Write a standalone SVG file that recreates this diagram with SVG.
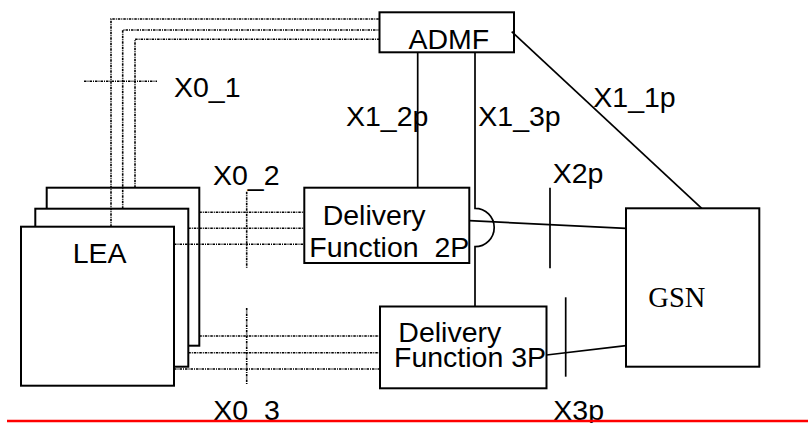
<svg xmlns="http://www.w3.org/2000/svg" width="810" height="423" viewBox="0 0 810 423">
<style>
.box{fill:#fff;stroke:#000;stroke-width:2}
.ln{fill:none;stroke:#000;stroke-width:1.7}
.dot{fill:none;stroke:#000;stroke-width:1.6;stroke-dasharray:2.5 1 1 1}
.t{font-family:"Liberation Sans",Arial,sans-serif;font-size:28.5px;fill:#000;white-space:pre}
.s{font-family:"Liberation Serif","Times New Roman",serif;font-size:28.5px;fill:#000}
</style>
<rect width="810" height="423" fill="#fff"/>
<g id="LEA">
<rect class="box" x="46.7" y="187.7" width="152.6" height="158"/>
<rect class="box" x="35.3" y="208.7" width="153" height="158"/>
<rect class="box" x="21" y="226.7" width="153" height="159"/>
<text class="t" x="72.7" y="263.3">LEA</text>
</g>
<g id="ADMF">
<rect class="box" x="379.5" y="12.3" width="134.5" height="40"/>
<text class="t" x="408.5" y="49">ADMF</text>
</g>
<g id="DF2P">
<rect class="box" x="304.3" y="187.7" width="165" height="75.3"/>
<text class="t" x="322.7" y="225">Delivery</text>
<text class="t" x="309.3" y="256.7">Function  2P</text>
</g>
<g id="DF3P">
<rect class="box" x="380" y="306.5" width="166.5" height="81.8"/>
<text class="t" x="398.3" y="341.7">Delivery</text>
<text class="t" x="394" y="366.7">Function 3P</text>
</g>
<g id="GSN">
<rect class="box" x="626" y="208.3" width="133.3" height="158.4"/>
<text class="s" x="648.3" y="307.3">GSN</text>
</g>
<g id="connectors">
<path class="dot" d="M111 226.7 V19 H379.5"/>
<path class="dot" d="M122.7 208.7 V30 H379.5"/>
<path class="dot" d="M135 187.7 V39.3 H379.5"/>
<path class="dot" d="M84 81.3 H157"/>
<path class="dot" d="M199.3 212.3 H304.3 M188.3 228.3 H304.3 M174 244.3 H304.3"/>
<path class="dot" d="M199.3 336 H380 M188.3 352.7 H380 M174 369 H380"/>
<path class="dot" d="M246.7 191.7 V268.3 M246.7 308 V384"/>
<path class="ln" d="M417.7 52.3 V187.7"/>
<path class="ln" d="M475 52.3 V208.3 A19.2 19.2 0 0 1 475 246.7 V306.5"/>
<path class="ln" d="M511.7 31.7 L701.7 208.3"/>
<path class="ln" d="M469.3 220.7 L626 228.3"/>
<path class="ln" d="M546.5 355 L626 345.7"/>
<path class="ln" d="M550 187.7 V268.3"/>
<path class="ln" d="M565.7 297.3 V376.7"/>
</g>
<g id="labels">
<text class="t" x="174" y="97.3">X0_1</text>
<text class="t" x="213" y="185">X0_2</text>
<text class="t" x="213.3" y="419.5">X0_3</text>
<text class="t" x="346" y="126">X1_2p</text>
<text class="t" x="478.3" y="126">X1_3p</text>
<text class="t" x="593.3" y="106.7">X1_1p</text>
<text class="t" x="552.7" y="183.3">X2p</text>
<text class="t" x="553.3" y="419.5">X3p</text>
</g>
<path d="M7 421 H808" stroke="#f00" stroke-width="2.5"/>
</svg>
